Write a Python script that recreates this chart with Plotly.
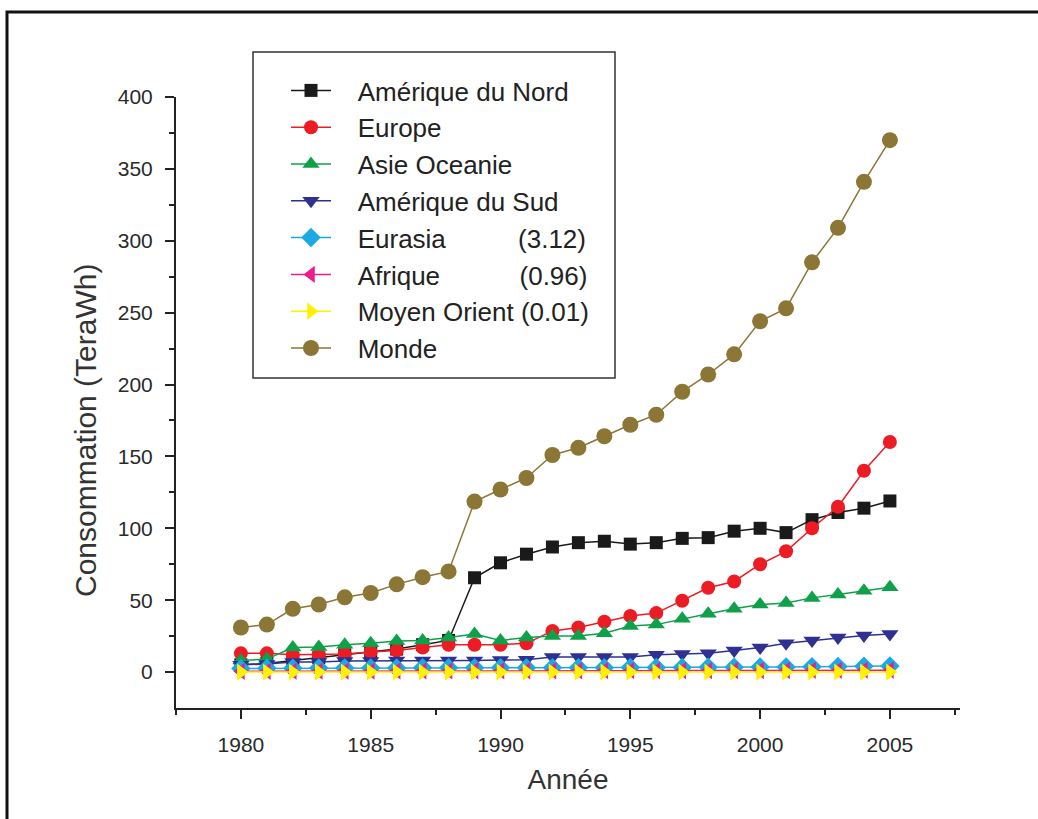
import plotly.graph_objects as go

years = list(range(1980, 2006))

amerique_nord = [5, 6, 8, 10, 12, 14, 16, 19, 22, 65.6, 76, 82, 87, 90, 91, 89, 90, 93, 93.5, 98, 100, 97, 106, 111, 114, 119]
europe = [13, 13, 12, 12, 12.5, 14, 15, 17, 19, 19, 19, 20, 28.6, 31, 35, 39, 41, 49.6, 58.6, 63, 75, 84, 100, 115, 140, 160]
asie_oceanie = [8, 9, 17, 17.5, 19, 20, 21.6, 22, 24, 26.5, 22, 24, 25, 25, 27, 32, 33, 37, 40.5, 44, 47, 48, 51.6, 54, 56.5, 59]
amerique_sud = [5, 5.6, 7, 7, 7.7, 7.7, 8, 8, 8, 8, 8.4, 8.5, 10.5, 10.5, 10.5, 10.5, 12, 12.6, 13, 15, 17, 20, 22, 24, 25.5, 26.5]
eurasia = [2.5, 2.6, 2.7, 2.8, 2.8, 2.9, 2.9, 3.0, 3.0, 3.0, 3.0, 3.0, 3.0, 3.0, 3.0, 3.1, 3.1, 3.2, 3.3, 3.4, 3.5, 3.6, 3.7, 3.8, 4.0, 4.2]
afrique = [0.5, 0.5, 0.6, 0.6, 0.7, 0.7, 0.8, 0.8, 0.8, 0.9, 0.9, 0.9, 0.9, 0.9, 1.0, 1.0, 1.0, 1.0, 1.0, 1.1, 1.1, 1.1, 1.2, 1.2, 1.3, 1.3]
moyen_orient = [0.01] * 26
monde = [31, 33, 44, 47, 52, 55, 61, 66, 70, 118.6, 127, 135, 151, 156, 164, 172, 179, 195, 207, 221, 244, 253, 285, 309, 341, 370]

NB = "\u00a0"
PAD = NB * 3
series = [
    ("Amérique du Nord", amerique_nord, "#1a1a1a", "square", 13),
    ("Europe", europe, "#ED1C24", "circle", 14),
    ("Asie Oceanie", asie_oceanie, "#0FA04A", "triangle-up", 15),
    ("Amérique du Sud", amerique_sud, "#2E3192", "triangle-down", 15),
    ("Eurasia" + NB * 10 + "(3.12)", eurasia, "#1BA9E6", "diamond", 15),
    ("Afrique" + NB * 11 + "(0.96)", afrique, "#EC1C8C", "triangle-left", 15),
    ("Moyen Orient (0.01)", moyen_orient, "#FFF200", "triangle-right", 15),
    ("Monde", monde, "#8C7635", "circle", 16),
]

fig = go.Figure()
for i, (name, vals, col, sym, size) in enumerate(series):
    fig.add_trace(go.Scatter(
        x=years, y=vals, name=PAD + name, mode="lines+markers",
        line=dict(color=col, width=1.5),
        marker=dict(symbol=sym, size=size, color=col, line=dict(width=0)),
        legendgroup="g%d" % i,
    ))

FONT = "Liberation Sans, Arial, sans-serif"
axis_font = dict(family=FONT, size=21, color="#2a2a2a")

fig.update_layout(
    width=1038, height=819,
    margin=dict(l=176, r=78, t=97, b=111),
    paper_bgcolor="white", plot_bgcolor="white",
    font=dict(family=FONT, color="#222222"),
    showlegend=True,
    legend=dict(
        x=(286 - 176) / 784, y=(708 - 67) / 611, xanchor="left", yanchor="top",
        bgcolor="rgba(0,0,0,0)", borderwidth=0,
        font=dict(size=26, color="#222222"),
        tracegroupgap=0, itemwidth=40,
    ),
    xaxis=dict(
        range=[1977.5, 2007.7], tickvals=[1980, 1985, 1990, 1995, 2000, 2005],
        showline=True, linecolor="#222222", linewidth=2,
        ticks="outside", ticklen=9, tickcolor="#222222", tickwidth=1.5,
        ticklabelstandoff=8,
        minor=dict(tickvals=[1977.5, 1982.5, 1987.5, 1992.5, 1997.5, 2002.5, 2007.5], ticks="outside", ticklen=5, tickcolor="#222222", tickwidth=1.5),
        showgrid=False, zeroline=False, tickfont=axis_font,
        title=dict(text="Année", font=dict(family=FONT, size=28, color="#333333"), standoff=14),
    ),
    yaxis=dict(
        range=[-25, 400], tickvals=[0, 50, 100, 150, 200, 250, 300, 350, 400],
        showline=True, linecolor="#222222", linewidth=2,
        ticks="outside", ticklen=9, tickcolor="#222222", tickwidth=1.5,
        ticklabelstandoff=8,
        minor=dict(tickvals=[25, 75, 125, 175, 225, 275, 325, 375], ticks="outside", ticklen=5, tickcolor="#222222", tickwidth=1.5),
        showgrid=False, zeroline=False, tickfont=axis_font,
    ),
    annotations=[
        dict(text="Consommation (TeraWh)", xref="paper", yref="paper",
             x=(85 - 176) / 784, y=(708 - 431) / 611, xanchor="center", yanchor="middle",
             textangle=-90, showarrow=False,
             font=dict(family=FONT, size=30, color="#333333")),
    ],
    shapes=[
        dict(type="rect", xref="paper", yref="paper",
             x0=(253 - 176) / 784, x1=(615 - 176) / 784,
             y0=(708 - 378) / 611, y1=(708 - 52) / 611,
             line=dict(color="#333333", width=1.5), fillcolor="rgba(0,0,0,0)"),
        dict(type="rect", xref="paper", yref="paper",
             x0=(7 - 176) / 784, x1=(1060 - 176) / 784,
             y0=(708 - 840) / 611, y1=(708 - 12) / 611,
             line=dict(color="#111111", width=3), fillcolor="rgba(0,0,0,0)"),
    ],
)

fig.write_html("out.html")
